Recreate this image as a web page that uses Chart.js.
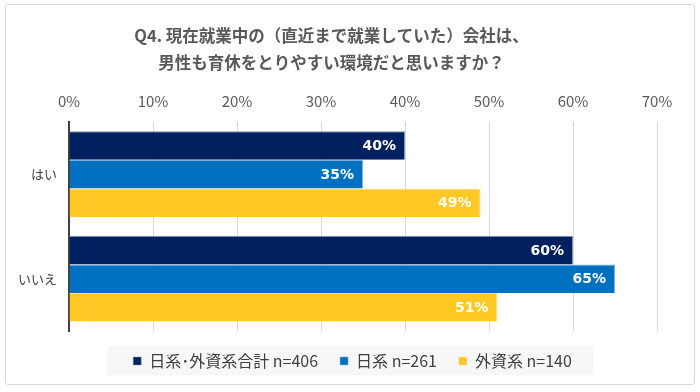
<!DOCTYPE html>
<html>
<head>
<meta charset="utf-8">
<script src="https://cdn.jsdelivr.net/npm/chart.js@4"></script>
<style>
  body { margin: 0; background: #fff; }
  #wrap { position: absolute; left: 5px; top: 4px; width: 688px; height: 379px; border: 1px solid #d9d9d9; border-radius: 3px; }
</style>
</head>
<body>
<div id="wrap"><canvas id="chart"></canvas></div>
<script>
const categories = ["はい", "いいえ"];
const seriesNames = ["日系･外資系合計 n=406", "日系 n=261", "外資系 n=140"];
const totalValues = [40, 60];
const japanValues = [35, 65];
const foreignValues = [49, 51];
const tickValues = [0, 10, 20, 30, 40, 50, 60, 70];

const font = "'Noto Sans CJK JP', 'Noto Sans', sans-serif";
const legendShift = 21;

// white percentage labels inside the bar ends
const barLabels = {
  id: "barLabels",
  afterDatasetsDraw(chart) {
    const ctx = chart.ctx;
    ctx.save();
    ctx.font = "bold 14px 'DejaVu Sans', sans-serif";
    ctx.fillStyle = "#fff";
    ctx.textAlign = "right";
    ctx.textBaseline = "middle";
    chart.data.datasets.forEach((ds, i) => {
      chart.getDatasetMeta(i).data.forEach((bar, j) => {
        ctx.fillText(ds.data[j] + "%", bar.x - 9, bar.y + 1);
      });
    });
    ctx.restore();
  }
};

// light grey panel behind the legend; legend a bit shorter and centred on the page
const legendBg = {
  id: "legendBg",
  afterInit(chart) {
    const legend = chart.legend;
    const fit = legend.fit;
    legend.fit = function () {
      fit.call(this);
      this.height -= 8;
    };
    const draw = legend.draw;
    legend.draw = function () {
      this.ctx.save();
      this.ctx.translate(legendShift, 0);
      draw.call(this);
      this.ctx.restore();
    };
  },
  beforeDraw(chart) {
    const boxes = chart.legend.legendHitBoxes;
    if (!boxes || !boxes.length) return;
    const left = Math.min(...boxes.map(b => b.left)) - 26 + legendShift;
    const right = Math.max(...boxes.map(b => b.left + b.width)) + 22 + legendShift;
    const top = boxes[0].top + boxes[0].height / 2 - 15;
    const ctx = chart.ctx;
    ctx.save();
    ctx.fillStyle = "#f7f7f9";
    ctx.fillRect(left, top, right - left, 29);
    ctx.restore();
  }
};

new Chart("chart", {
  type: "bar",
  data: {
    labels: categories,
    datasets: [
      { label: seriesNames[0], data: totalValues, backgroundColor: "#002060", borderColor: "#8496b8", borderWidth: { top: 1, bottom: 0, left: 0, right: 1 } },
      { label: seriesNames[1], data: japanValues, backgroundColor: "#0070c0", borderColor: "#7fb4e0", borderWidth: { top: 1, bottom: 0, left: 0, right: 1 } },
      { label: seriesNames[2], data: foreignValues, backgroundColor: "#ffc824", borderColor: "#ffe08a", borderWidth: { top: 1, bottom: 0, left: 0, right: 1 } }
    ]
  },
  options: {
    indexAxis: "y",
    responsive: true,
    maintainAspectRatio: false,
    animation: false,
    datasets: { bar: { categoryPercentage: 0.82, barPercentage: 1.0 } },
    layout: { padding: { left: 0, right: 37, top: 14, bottom: 13 } },
    scales: {
      x: {
        position: "top",
        min: 0,
        max: 70,
        afterBuildTicks(axis) { axis.ticks = tickValues.map(v => ({ value: v })); },
        ticks: { callback: v => v + "%", color: "#595959", font: { family: font, size: 15 }, padding: 12 },
        grid: { color: "#d9d9d9", drawTicks: false },
        border: { display: false }
      },
      y: {
        ticks: { color: "#404040", font: { family: font, size: 13 }, padding: 12 },
        grid: { display: false, drawTicks: false },
        border: { color: "#404040", width: 2 }
      }
    },
    plugins: {
      title: {
        display: true,
        text: ["Q4. 現在就業中の（直近まで就業していた）会社は、", "男性も育休をとりやすい環境だと思いますか？"],
        color: "#595959",
        font: { family: font, size: 16.5, weight: "bold", lineHeight: 1.6 },
        padding: { top: 4, bottom: 4 }
      },
      legend: {
        position: "bottom",
        labels: { boxWidth: 8, boxHeight: 8, color: "#404040", font: { family: font, size: 16 }, padding: 22 }
      },
      tooltip: { enabled: false }
    }
  },
  plugins: [barLabels, legendBg]
});
</script>
</body>
</html>
